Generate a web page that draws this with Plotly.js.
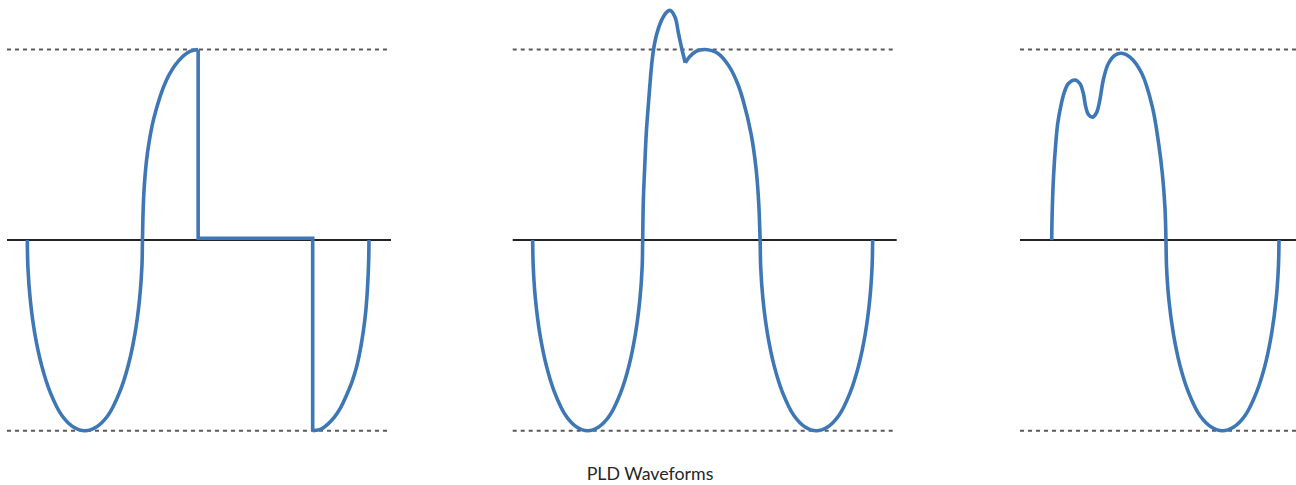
<!DOCTYPE html>
<html>
<head>
<meta charset="utf-8">
<script src="https://cdn.plot.ly/plotly-3.0.1.min.js"></script>
<style>
  html, body { margin: 0; padding: 0; background: #ffffff; }
  #chart { width: 1296px; height: 485px; }
</style>
</head>
<body>
<div id="chart"></div>
<script>
// ---- Data (phase in degrees, value in per-unit of nominal peak) ----
const chartTitle = "PLD Waveforms";

// Panel 1: waveform interrupted after the positive peak, resumes at negative peak
const p1PhaseA = [0,0.9,4.6,11.8,22.8,36.4,54.6,72.8,91,109.2,127.4,145.6,159.3,170.2,177.4,181.1,182,183,185,190,200,220,239,257,270];
const p1ValueA = [0,-0.14,-0.31,-0.49,-0.66,-0.8,-0.92,-0.98,-1,-0.98,-0.92,-0.8,-0.66,-0.49,-0.31,-0.14,0,0.15,0.29,0.46,0.64,0.84,0.94,0.99,1];
const p1PhaseB = [270,270,451,451];
const p1ValueB = [1,0.01,0.01,-1];
const p1PhaseC = [451,456,465,475,485,495,505,513,520,526,531,535,538,539.5,540];
const p1ValueC = [-1,-0.998,-0.99,-0.965,-0.93,-0.88,-0.81,-0.745,-0.67,-0.58,-0.48,-0.37,-0.23,-0.11,0];

// Panel 2: transient overshoot on the positive half-cycle
const p2PhaseA = [0,0.9,4.4,11.3,21.8,34.9,52.4,69.8,87.3,104.8,122.2,139.7,152.8,163.2,170.2,173.8,174.6,175.6,177.8,180.3,184.1,188.3,191.4,196.8,204.1,212.7,218.4,225.9,231.7,237,242.2];
const p2ValueA = [0,-0.14,-0.31,-0.49,-0.66,-0.8,-0.92,-0.98,-1,-0.98,-0.92,-0.8,-0.66,-0.49,-0.31,-0.14,0,0.2,0.38,0.56,0.73,0.9,0.99,1.08,1.15,1.196,1.205,1.17,1.08,1.0,0.93];
const p2PhaseB = [242.2,248.6,259.2,273.5,293.7,312.1,325.4,334.3,346.5,354.4,358.7,361,361.9,365.5,372.6,383.3,396.7,414.6,432.4,450.3,468.2,486,503.9,517.3,528,535.1,538.7,539.6];
const p2ValueB = [0.93,0.96,0.99,1.0,0.98,0.91,0.82,0.73,0.56,0.38,0.2,0,-0.14,-0.31,-0.49,-0.66,-0.8,-0.92,-0.98,-1,-0.98,-0.92,-0.8,-0.66,-0.49,-0.31,-0.14,0];

// Panel 3: sag / notch on the positive half-cycle
const p3Phase = [0,1.0,3.2,6.8,9.5,14.3,19.5,26.3,37,44.9,50.2,54,58.1,65.1,71.4,76.7,81.9,89.8,100.5,111.1,124.3,142.9,159.7,169.2,175.6,179.8,181.4,182.3,185.9,193.1,203.8,217.3,235.2,253.2,271.1,289,307,324.9,338.4,349.1,356.3,359.9,360.8];
const p3Value = [0,0.17,0.35,0.52,0.61,0.70,0.77,0.82,0.84,0.82,0.77,0.70,0.66,0.645,0.67,0.74,0.84,0.925,0.97,0.98,0.96,0.875,0.70,0.52,0.35,0.17,0,-0.14,-0.31,-0.49,-0.66,-0.8,-0.92,-0.98,-1,-0.98,-0.92,-0.8,-0.66,-0.49,-0.31,-0.14,0];

// Reference levels
const refPeak = 1;
const refZero = 0;

// ---- Styling ----
const waveColor = "#3e77b5";
const waveWidth = 3.6;

function wave(x, y, xa, shape) {
  return {
    type: "scatter", mode: "lines", x: x, y: y,
    xaxis: xa, yaxis: "y",
    line: { color: waveColor, width: waveWidth, shape: shape, smoothing: 1 },
    hoverinfo: "skip", showlegend: false
  };
}

const traces = [
  wave(p1PhaseA, p1ValueA, "x", "spline"),
  wave(p1PhaseB, p1ValueB, "x", "linear"),
  wave(p1PhaseC, p1ValueC, "x", "spline"),
  wave(p2PhaseA, p2ValueA, "x2", "spline"),
  wave(p2PhaseB, p2ValueB, "x2", "spline"),
  wave(p3Phase, p3Value, "x3", "spline")
];

const shapes = [];
["x", "x2", "x3"].forEach(function (ax) {
  [refPeak, -refPeak].forEach(function (lvl) {
    shapes.push({
      type: "line", xref: ax + " domain", yref: "y",
      x0: 0, x1: 1, y0: lvl, y1: lvl,
      line: { color: "#5a5a5a", width: 2, dash: "4px,4px" },
      layer: "below"
    });
  });
  shapes.push({
    type: "line", xref: ax + " domain", yref: "y",
    x0: 0, x1: 1, y0: refZero, y1: refZero,
    line: { color: "#232323", width: 2 },
    layer: "below"
  });
});

const hiddenAxis = { visible: false, showgrid: false, zeroline: false, fixedrange: true };

const layout = {
  width: 1296, height: 485,
  margin: { l: 0, r: 0, t: 0, b: 0, pad: 0 },
  paper_bgcolor: "#ffffff", plot_bgcolor: "#ffffff",
  showlegend: false,
  title: {
    text: chartTitle,
    x: 650 / 1296, xanchor: "center", xref: "container",
    y: 1 - 474 / 485, yanchor: "middle", yref: "container",
    font: { family: "Lato, 'Open Sans', sans-serif", size: 17.8, color: "#262626" }
  },
  xaxis: Object.assign({}, hiddenAxis, { domain: [7 / 1296, 391 / 1296], range: [-32.1, 574.8], anchor: "y" }),
  xaxis2: Object.assign({}, hiddenAxis, { domain: [512.7 / 1296, 896.7 / 1296], range: [-31.7, 577.8], anchor: "y" }),
  xaxis3: Object.assign({}, hiddenAxis, { domain: [1020 / 1296, 1], range: [-50.3, 387.8], anchor: "y" }),
  yaxis: Object.assign({}, hiddenAxis, { domain: [0, 1], range: [-1.2847, 1.2595] }),
  shapes: shapes
};

Plotly.newPlot("chart", traces, layout, { staticPlot: true, displayModeBar: false });
</script>
</body>
</html>
